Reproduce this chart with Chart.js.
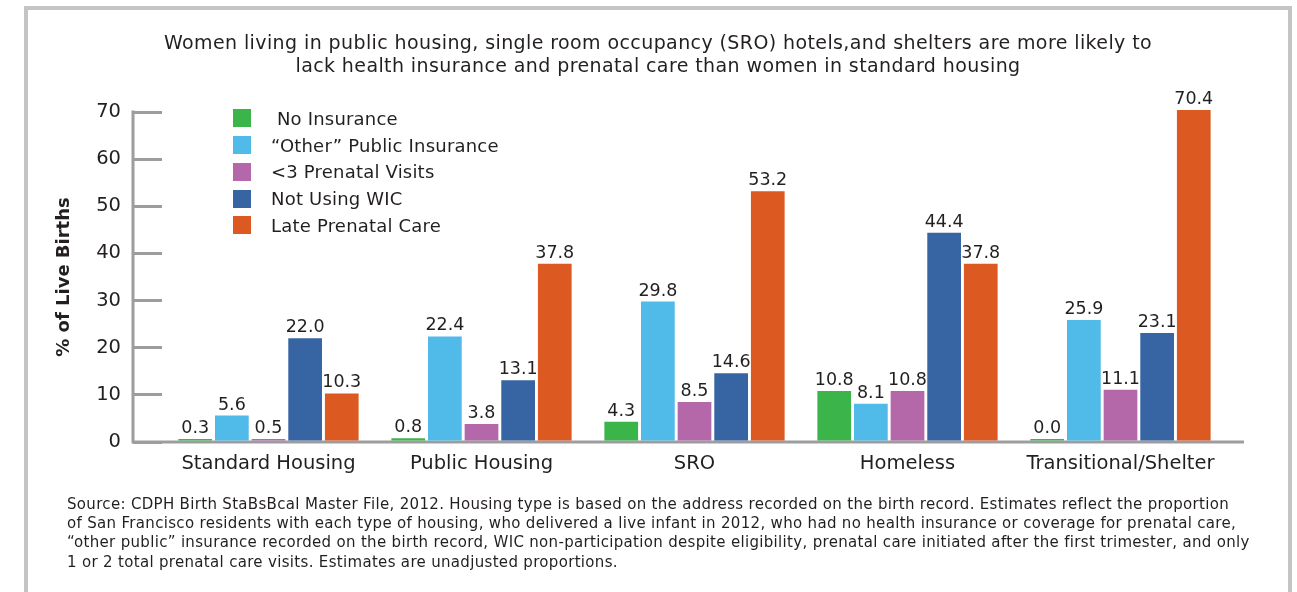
<!DOCTYPE html>
<html>
<head>
<meta charset="utf-8">
<script src="https://cdn.jsdelivr.net/npm/chart.js@4.4.1/dist/chart.umd.min.js"></script>
<style>
    body { margin: 0; background: #fff; width: 1297px; height: 592px; overflow: hidden; position: relative; font-family: "DejaVu Sans", sans-serif; color: #231f20; }
    #frame { position: absolute; left: 24px; top: 6px; width: 1260px; height: 640px; border: 4px solid #c4c4c4; }
    #chartBox { position: absolute; left: 0; top: 0; width: 1297px; height: 592px; }
    #title { position: absolute; left: 28px; width: 1260px; top: 31px; text-align: center; font-size: 19px; letter-spacing: 0.4px; line-height: 23px; }
    #legend { position: absolute; left: 233px; top: 105px; font-size: 18px; letter-spacing: 0.2px; }
    #legend .item { height: 26.75px; display: flex; align-items: center; }
    #legend .box { width: 18px; height: 18px; margin-right: 20px; }
    #note { position: absolute; left: 67px; top: 495px; font-size: 15px; letter-spacing: 0.32px; line-height: 19.2px; white-space: nowrap; }
</style>
</head>
<body>
<div id="frame"></div>
<div id="chartBox"><canvas id="chart1"></canvas></div>
<div id="title">Women living in public housing, single room occupancy (SRO) hotels,and shelters are more likely to<br>lack health insurance and prenatal care than women in standard housing</div>
<div id="legend"></div>
<div id="note">Source: CDPH Birth StaBsBcal Master File, 2012. Housing type is based on the address recorded on the birth record. Estimates reflect the proportion<br>of San Francisco residents with each type of housing, who delivered a live infant in 2012, who had no health insurance or coverage for prenatal care,<br>“other public” insurance recorded on the birth record, WIC non-participation despite eligibility, prenatal care initiated after the first trimester, and only<br>1 or 2 total prenatal care visits. Estimates are unadjusted proportions.</div>

<script>
// housing types
const categories = ['Standard Housing', 'Public Housing', 'SRO', 'Homeless', 'Transitional/Shelter'];

// % of live births per indicator
const noInsurance = [0.3, 0.8, 4.3, 10.8, 0.0];
const otherPublic = [5.6, 22.4, 29.8, 8.1, 25.9];
const fewVisits = [0.5, 3.8, 8.5, 10.8, 11.1];
const notUsingWic = [22.0, 13.1, 14.6, 44.4, 23.1];
const latePrenatal = [10.3, 37.8, 53.2, 37.8, 70.4];

const seriesNames = [' No Insurance', '“Other” Public Insurance', '<3 Prenatal Visits', 'Not Using WIC', 'Late Prenatal Care'];
const seriesColors = ['#3bb44a', '#50bae9', '#b468aa', '#3764a3', '#dc5a21'];
const seriesValues = [noInsurance, otherPublic, fewVisits, notUsingWic, latePrenatal];

const yTicks = [0, 10, 20, 30, 40, 50, 60, 70];

const axisGray = '#9d9d9f';
const textColor = '#231f20';
const fontFamily = '"DejaVu Sans", sans-serif';

// value labels above the bars
const barLabels = {
    id: 'barLabels',
    afterDatasetsDraw(chart) {
        const ctx = chart.ctx;
        ctx.save();
        ctx.font = '17.5px ' + fontFamily;
        ctx.fillStyle = textColor;
        ctx.textAlign = 'center';
        ctx.textBaseline = 'alphabetic';
        chart.data.datasets.forEach((dataset, i) => {
            chart.getDatasetMeta(i).data.forEach((bar, j) => {
                ctx.fillText(dataset.data[j].toFixed(1), bar.x, bar.y - 6);
            });
        });
        ctx.restore();
    }
};

// axis lines: y line sits at the outer end of the inward ticks
const axisLines = {
    id: 'axisLines',
    beforeDatasetsDraw(chart) {
        const ctx = chart.ctx;
        const y = chart.scales.y;
        const area = chart.chartArea;
        const tickLen = y.options.grid.tickLength;
        const x0 = area.left - tickLen;
        ctx.save();
        ctx.strokeStyle = axisGray;
        ctx.lineWidth = 3;
        ctx.beginPath();
        ctx.moveTo(x0, y.getPixelForValue(yTicks[yTicks.length - 1]) - 1.5);
        ctx.lineTo(x0, y.getPixelForValue(0));
        ctx.moveTo(x0 - 1.5, y.getPixelForValue(0));
        ctx.lineTo(area.right + 17, y.getPixelForValue(0));
        ctx.stroke();
        ctx.restore();
    }
};

const ctx = document.getElementById('chart1');
const chart = new Chart(ctx, {
    type: 'bar',
    data: {
        labels: categories,
        datasets: seriesValues.map((values, i) => ({
            label: seriesNames[i],
            data: values,
            backgroundColor: seriesColors[i],
            borderWidth: 0,
            minBarLength: 3,
            clip: false,
            barPercentage: 0.92,
            categoryPercentage: 0.86
        }))
    },
    options: {
        responsive: true,
        maintainAspectRatio: false,
        animation: false,
        layout: {
            padding: { left: 30, right: 70, top: 112, bottom: 110 }
        },
        plugins: {
            legend: { display: false },
            tooltip: { enabled: false }
        },
        scales: {
            x: {
                grid: { display: false, drawTicks: false },
                border: { display: false },
                ticks: {
                    color: textColor,
                    font: { family: fontFamily, size: 19.5 },
                    padding: 10
                },
                afterFit(scale) { scale.height = 40; }
            },
            y: {
                min: 0,
                max: 70,
                afterBuildTicks(scale) { scale.ticks = yTicks.map(v => ({ value: v })); },
                grid: {
                    drawOnChartArea: false,
                    drawTicks: true,
                    tickLength: 29,
                    color: axisGray,
                    lineWidth: 3
                },
                border: { display: false },
                ticks: {
                    color: textColor,
                    font: { family: fontFamily, size: 19.5 },
                    padding: 12
                },
                title: {
                    display: true,
                    text: '% of Live Births',
                    color: textColor,
                    font: { family: fontFamily, size: 18, weight: 'bold' },
                    padding: { top: 24, bottom: 0 }
                },
                afterFit(scale) { scale.width = 132; }
            }
        }
    },
    plugins: [axisLines, barLabels]
});

// legend built from the chart's own datasets
const legendEl = document.getElementById('legend');
chart.data.datasets.forEach(ds => {
    const item = document.createElement('div');
    item.className = 'item';
    const box = document.createElement('span');
    box.className = 'box';
    box.style.background = ds.backgroundColor;
    const txt = document.createElement('span');
    txt.textContent = ds.label;
    txt.style.whiteSpace = 'pre';
    item.appendChild(box);
    item.appendChild(txt);
    legendEl.appendChild(item);
});
</script>
</body>
</html>
